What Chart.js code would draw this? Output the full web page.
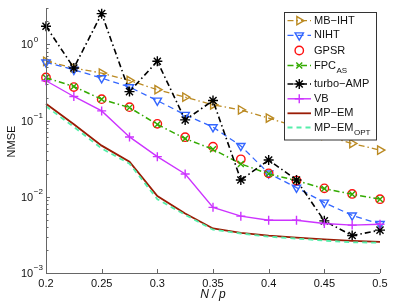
<!DOCTYPE html>
<html>
<head>
<meta charset="utf-8">
<script src="https://cdn.jsdelivr.net/npm/chart.js@4/dist/chart.umd.min.js"></script>
<style>
html,body{margin:0;padding:0;background:#fff;}
#wrap{width:395px;height:305px;position:relative;}
</style>
</head>
<body>
<div id="wrap"><canvas id="c" width="395" height="305"></canvas></div>
<script>
// ---- data ----
const ratio = [0.2, 0.225, 0.25, 0.275, 0.3, 0.325, 0.35, 0.375, 0.4, 0.425, 0.45, 0.475, 0.5];
const mbIht   = [0.60, 0.49, 0.42, 0.336, 0.254, 0.203, 0.161, 0.138, 0.108, 0.083, 0.064, 0.050, 0.041];
const niht    = [0.58, 0.465, 0.361, 0.275, 0.183, 0.119, 0.082, 0.0465, 0.0203, 0.0132, 0.0084, 0.0057, 0.0044];
const gpsr    = [0.368, 0.275, 0.191, 0.150, 0.0906, 0.0605, 0.0455, 0.031, 0.0203, 0.0163, 0.0129, 0.0109, 0.0093];
const fpcAs   = [0.365, 0.28, 0.19, 0.148, 0.089, 0.058, 0.042, 0.027, 0.0200, 0.0163, 0.0128, 0.0108, 0.0093];
const turboAmp= [1.73, 0.49, 2.53, 0.24, 0.60, 0.102, 0.183, 0.0166, 0.0304, 0.0166, 0.00483, 0.0031, 0.00365];
const vb      = [0.333, 0.207, 0.134, 0.061, 0.0336, 0.0199, 0.00727, 0.00557, 0.00493, 0.00493, 0.00447, 0.00425, 0.00437];
const mpEm    = [0.166, 0.0895, 0.0469, 0.0289, 0.0102, 0.00605, 0.00384, 0.00336, 0.0031, 0.00292, 0.00277, 0.00264, 0.00256];
const mpEmOpt = [0.154, 0.0826, 0.043, 0.0272, 0.0093, 0.0058, 0.0037, 0.0033, 0.0030, 0.00283, 0.00266, 0.00253, 0.0025];

const xTicks = [0.2, 0.25, 0.3, 0.35, 0.4, 0.45, 0.5];
const xTickLabels = ['0.2', '0.25', '0.3', '0.35', '0.4', '0.45', '0.5'];
const yMajorExp = [-3, -2, -1, 0];
const yMajorLabels = ['\u22123', '\u22122', '\u22121', '0'];
const seriesNames = ['MB\u2212IHT', 'NIHT', 'GPSR', 'FPC', 'turbo\u2212AMP', 'VB', 'MP\u2212EM', 'MP\u2212EM'];
const seriesSubs  = ['', '', '', 'AS', '', '', '', 'OPT'];
const xTitle = 'N / p';
const yTitle = 'NMSE';

// ---- styles ----
const FONT = '"Liberation Sans", Arial, Helvetica, sans-serif';
const styles = [
  {color:'#bb8a22', dash:[6,3,1.5,3], showLine:true,  point:'triangle', rot:90,  r:4.8, w:1.3},
  {color:'#3366ff', dash:[6,4],       showLine:true,  point:'triangle', rot:180, r:4.8, w:1.3},
  {color:'#ff1010', dash:[],          showLine:false, point:'circle',   rot:0,   r:4.2, w:1.5},
  {color:'#33aa00', dash:[6,3,1.5,3], showLine:true,  point:'crossRot', rot:0,   r:4.2, w:1.5},
  {color:'#000000', dash:[6,3,1.5,3], showLine:true,  point:'star',     rot:0,   r:5.0, w:1.6},
  {color:'#cc33ff', dash:[],          showLine:true,  point:'cross',    rot:0,   r:4.5, w:1.4},
  {color:'#9a1c05', dash:[],          showLine:true,  point:false,      rot:0,   r:0,   w:1.8},
  {color:'#55eeaa', dash:[5,4],       showLine:true,  point:false,      rot:0,   r:0,   w:1.8}
];
const allSeries = [mbIht, niht, gpsr, fpcAs, turboAmp, vb, mpEm, mpEmOpt];

const datasets = allSeries.map((vals, i) => {
  const s = styles[i];
  return {
    label: seriesNames[i] + seriesSubs[i],
    data: ratio.map((x, k) => ({x: x, y: vals[k]})),
    borderColor: s.color,
    backgroundColor: 'rgba(0,0,0,0)',
    borderWidth: s.w,
    borderDash: s.dash,
    showLine: s.showLine,
    pointStyle: s.point,
    pointRotation: s.rot,
    pointRadius: s.r,
    pointBorderColor: s.color,
    pointBackgroundColor: 'rgba(0,0,0,0)',
    pointBorderWidth: 1.4,
    tension: 0,
    clip: false,
    order: 8 - i
  };
});

const AXIS_COLOR = '#666666';

const axesPlugin = {
  id: 'matlabAxes',
  afterDraw(chart) {
    const ctx = chart.ctx;
    const a = chart.chartArea;
    const xs = chart.scales.x, ys = chart.scales.y;
    ctx.save();
    ctx.strokeStyle = AXIS_COLOR;
    ctx.lineWidth = 1;
    ctx.setLineDash([]);
    // axis lines
    ctx.beginPath();
    ctx.moveTo(Math.round(a.left) + 0.5, a.top);
    ctx.lineTo(Math.round(a.left) + 0.5, Math.round(a.bottom) + 0.5);
    ctx.lineTo(a.right, Math.round(a.bottom) + 0.5);
    ctx.stroke();
    // x ticks (inside)
    ctx.beginPath();
    xTicks.forEach(v => {
      const px = Math.round(xs.getPixelForValue(v)) + 0.5;
      ctx.moveTo(px, a.bottom);
      ctx.lineTo(px, a.bottom - 4);
    });
    // y ticks major + minor (inside)
    for (let e = -3; e <= 0; e++) {
      for (let m = 1; m <= 9; m++) {
        const v = m * Math.pow(10, e);
        if (v > ys.max * 1.0001) continue;
        const py = Math.round(ys.getPixelForValue(v)) + 0.5;
        ctx.moveTo(a.left, py);
        ctx.lineTo(a.left + (m === 1 ? 4 : 2.5), py);
      }
    }
    ctx.stroke();

    // x labels
    ctx.fillStyle = '#111';
    ctx.font = '11px ' + FONT;
    ctx.textAlign = 'center';
    ctx.textBaseline = 'middle';
    xTicks.forEach((v, i) => {
      ctx.fillText(xTickLabels[i], xs.getPixelForValue(v), a.bottom + 11);
    });
    // y labels 10^e
    yMajorExp.forEach((e, i) => {
      const py = ys.getPixelForValue(Math.pow(10, e));
      ctx.font = '11px ' + FONT;
      ctx.textAlign = 'left';
      ctx.textBaseline = 'middle';
      ctx.fillText('10', 21, py + 1);
      const w = ctx.measureText('10').width;
      ctx.font = '8px ' + FONT;
      ctx.fillText(yMajorLabels[i], 21 + w + 0.5, py - 5);
    });
    // titles
    ctx.font = 'italic 12px ' + FONT;
    ctx.textAlign = 'center';
    ctx.textBaseline = 'middle';
    ctx.fillText(xTitle, (a.left + a.right) / 2, 295);
    ctx.save();
    ctx.translate(12, (a.top + a.bottom) / 2 + 1);
    ctx.rotate(-Math.PI / 2);
    ctx.font = '11px ' + FONT;
    ctx.fillText(yTitle, 0, 0);
    ctx.restore();

    // legend
    const bx = 284.5, by = 12.5, bw = 92, bh = 127.5;
    ctx.fillStyle = '#ffffff';
    ctx.fillRect(bx, by, bw, bh);
    ctx.strokeStyle = '#333';
    ctx.lineWidth = 1;
    ctx.strokeRect(bx, by, bw, bh);
    const rowY = [20.7, 35.3, 50.5, 65.5, 84, 98.8, 113.3, 127.5];
    chart.data.datasets.forEach((ds, i) => {
      const s = styles[i];
      const y = rowY[i];
      const x0 = 287.5, x1 = 311, xc = (x0 + x1) / 2;
      ctx.strokeStyle = s.color;
      ctx.lineWidth = s.w;
      if (s.showLine) {
        ctx.setLineDash(s.dash);
        ctx.beginPath();
        ctx.moveTo(x0, y);
        ctx.lineTo(x1, y);
        ctx.stroke();
      }
      ctx.setLineDash([]);
      if (s.point) {
        ctx.fillStyle = 'rgba(0,0,0,0)';
        ctx.lineWidth = 1.4;
        Chart.helpers.drawPoint(ctx, {
          pointStyle: s.point, rotation: s.rot, radius: s.r, borderWidth: 1.4
        }, xc, y);
      }
      ctx.fillStyle = '#111';
      ctx.font = '11px ' + FONT;
      ctx.textAlign = 'left';
      ctx.textBaseline = 'middle';
      ctx.fillText(seriesNames[i], 314, y);
      if (seriesSubs[i]) {
        const w = ctx.measureText(seriesNames[i]).width;
        ctx.font = '8px ' + FONT;
        ctx.fillText(seriesSubs[i], 314 + w + 0.5, y + 5);
      }
    });
    ctx.restore();
  }
};

new Chart(document.getElementById('c'), {
  type: 'line',
  data: { datasets: datasets },
  options: {
    responsive: false,
    animation: false,
    layout: { padding: { left: 46, top: 8, right: 15, bottom: 32 } },
    plugins: { legend: { display: false }, tooltip: { enabled: false } },
    scales: {
      x: { type: 'linear', display: false, min: 0.2, max: 0.5 },
      y: { type: 'logarithmic', display: false, min: 0.001, max: 3 }
    }
  },
  plugins: [axesPlugin]
});
</script>
</body>
</html>
